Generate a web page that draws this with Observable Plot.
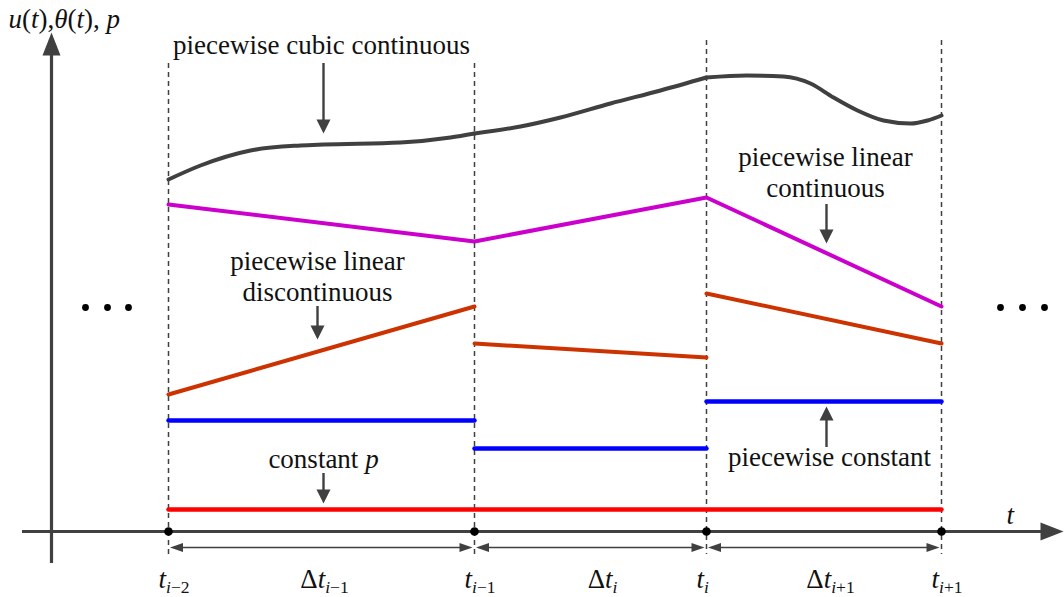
<!DOCTYPE html>
<html>
<head>
<meta charset="utf-8">
<script src="https://cdn.jsdelivr.net/npm/d3@7"></script>
<script src="https://cdn.jsdelivr.net/npm/@observablehq/plot@0.6"></script>
<style>
  body { margin: 0; background: #fff; }
</style>
</head>
<body>
<div id="chart"></div>
<script>
// Knot times t_{i-2} … t_{i+1} and their labels
const knots = [1.17, 4.23, 6.55, 8.90];
const knotLabels = ["t_{i−2}", "t_{i−1}", "t_{i}", "t_{i+1}"];
const stepLabels = ["Δt_{i−1}", "Δt_{i}", "Δt_{i+1}"];

// u(t): piecewise cubic, continuous (samples on each interval)
const cubicT = [
  [1.17, 1.49, 1.99, 2.49, 2.72, 3.49, 3.99, 4.23],
  [4.23, 4.69, 5.09, 5.59, 6.09, 6.55],
  [6.55, 6.95, 7.32, 7.59, 7.82, 8.06, 8.32, 8.59, 8.76, 8.90]
];
const cubicU = [
  [3.52, 3.66, 3.81, 3.86, 3.87, 3.89, 3.94, 3.98],
  [3.98, 4.05, 4.14, 4.28, 4.41, 4.54],
  [4.54, 4.56, 4.55, 4.48, 4.34, 4.21, 4.11, 4.08, 4.11, 4.16]
];

// piecewise linear, continuous (value at each knot)
const linContU = [3.27, 2.90, 3.34, 2.25];

// piecewise linear, discontinuous (start / end value on each interval)
const linDiscStart = [1.37, 1.88, 2.38];
const linDiscEnd = [2.25, 1.74, 1.88];

// piecewise constant (one value per interval)
const pieceConst = [1.11, 0.83, 1.30];

// constant p
const constP = 0.22;

// ---- tables built from the arrays above ----
const cubicRows = cubicT.flatMap((ts, k) => ts.map((t, j) => ({t, v: cubicU[k][j], piece: k})));
const linContRows = knots.map((t, i) => ({t, v: linContU[i]}));
const discRows = linDiscStart.flatMap((v, k) => [
  {t: knots[k], v, piece: k},
  {t: knots[k + 1], v: linDiscEnd[k], piece: k}
]);
const constRows = pieceConst.flatMap((v, k) => [
  {t: knots[k], v, piece: k},
  {t: knots[k + 1], v, piece: k}
]);
const pRows = [{t: knots[0], v: constP}, {t: knots[3], v: constP}];
const intervals = d3.range(3).map(k => ({a: knots[k], b: knots[k + 1], k}));

// annotation placement (text baseline, arrow tail and tip)
const notes = [
  {text: "piecewise cubic continuous", x: 2.70, y: 4.78, ax: 2.72, from: 4.68, to: 3.98},
  {text: "piecewise linear\ndiscontinuous", x: 2.66, y: 2.31, ax: 2.66, from: 2.25, to: 1.92},
  {text: "piecewise linear\ncontinuous", x: 7.74, y: 3.35, ax: 7.75, from: 3.27, to: 2.88},
  {text: "piecewise constant", x: 7.78, y: 0.66, ax: 7.75, from: 0.84, to: 1.25},
  {text: "constant $p$", x: 2.72, y: 0.64, ax: 2.72, from: 0.58, to: 0.28}
];
const stepLabelAt = [2.73, 5.51, 7.79];
const guideTop = [4.68, 4.68, 4.91, 4.91];

// filled triangular arrowheads; the symbol origin is the tip
function tri(dir, len, half) {
  return {
    draw(ctx) {
      const pts = {
        up: [[0, 0], [-half, len], [half, len]],
        down: [[0, 0], [-half, -len], [half, -len]],
        left: [[0, 0], [len, -half], [len, half]],
        right: [[0, 0], [-len, -half], [-len, half]]
      }[dir];
      ctx.moveTo(...pts[0]);
      ctx.lineTo(...pts[1]);
      ctx.lineTo(...pts[2]);
      ctx.closePath();
    }
  };
}

const ink = "#404040";
const serif = "Liberation Serif";
const fs = 27;
const headLen = 0.13; // annotation head length in value units

const chart = Plot.plot({
  width: 1064,
  height: 597,
  marginLeft: 51,
  marginRight: 13,
  marginTop: 31,
  marginBottom: 66,
  x: {domain: [0, 10], axis: null},
  y: {domain: [0, 5], axis: null},
  marks: [
    // dashed knot guides
    Plot.ruleX(knots, {y1: (d, i) => guideTop[i], y2: -0.23, stroke: ink, strokeWidth: 1.5, strokeDasharray: "5,4"}),

    // axes with arrowheads
    Plot.ruleY([0], {x1: -0.29, x2: 9.92, stroke: ink, strokeWidth: 3.2}),
    Plot.ruleX([0], {y1: -0.32, y2: 4.78, stroke: ink, strokeWidth: 3.2}),
    Plot.dot([0], {x: 0, y: 4.99, symbol: tri("up", 23, 9), fill: ink, stroke: "none"}),
    Plot.dot([0], {x: 10.12, y: 0, symbol: tri("right", 23, 9), fill: ink, stroke: "none"}),

    // constant p
    Plot.line(pRows, {x: "t", y: "v", stroke: "#ff0000", strokeWidth: 4.5, strokeLinecap: "round"}),
    // piecewise constant
    Plot.line(constRows, {x: "t", y: "v", z: "piece", stroke: "#0000ff", strokeWidth: 4.5, strokeLinecap: "round"}),
    // piecewise linear discontinuous
    Plot.line(discRows, {x: "t", y: "v", z: "piece", stroke: "#cc3300", strokeWidth: 4, strokeLinecap: "round"}),
    // piecewise linear continuous
    Plot.line(linContRows, {x: "t", y: "v", stroke: "#cc00cc", strokeWidth: 4, strokeLinecap: "round"}),
    // piecewise cubic continuous
    Plot.line(cubicRows, {x: "t", y: "v", z: "piece", curve: "monotone-x", stroke: ink, strokeWidth: 4, strokeLinecap: "round"}),

    // knots on the time axis
    Plot.dot(knots, {x: d => d, y: 0, r: 4.3, fill: "black", stroke: "none"}),

    // interval widths Δt
    Plot.ruleY(intervals, {y: -0.16, x1: d => d.a + 0.12, x2: d => d.b - 0.12, stroke: ink, strokeWidth: 1.5}),
    Plot.dot(intervals, {x: d => d.a + 0.015, y: -0.16, symbol: tri("left", 13, 4.5), fill: ink, stroke: "none"}),
    Plot.dot(intervals, {x: d => d.b - 0.02, y: -0.16, symbol: tri("right", 13, 4.5), fill: ink, stroke: "none"}),

    // ellipses on either side
    Plot.dot([0.34, 0.56, 0.77, 9.49, 9.71, 9.93], {x: d => d, y: 2.24, r: 3.4, fill: "black", stroke: "none"}),

    // annotation arrows
    Plot.ruleX(notes, {x: "ax", y1: "from", y2: d => d.to + (d.to < d.from ? headLen : -headLen), stroke: ink, strokeWidth: 2.4}),
    Plot.dot(notes.filter(d => d.to < d.from), {x: "ax", y: "to", symbol: tri("down", 14, 7), fill: ink, stroke: "none"}),
    Plot.dot(notes.filter(d => d.to > d.from), {x: "ax", y: "to", symbol: tri("up", 14, 7), fill: ink, stroke: "none"}),

    // annotation text
    Plot.text(notes, {x: "x", y: "y", text: "text", lineAnchor: "bottom", lineHeight: 1.13, fontSize: fs, fontFamily: serif, fill: "#111"}),

    // axis titles
    Plot.text(["$u(t),θ(t), p$"], {x: -0.43, y: 5.04, text: d => d, textAnchor: "start", lineAnchor: "bottom", fontSize: fs, fontFamily: serif, fill: "#111"}),
    Plot.text(["$t$"], {x: 9.55, y: 0.08, text: d => d, textAnchor: "start", lineAnchor: "bottom", fontSize: fs, fontFamily: serif, fill: "#111"}),

    // knot and interval labels
    Plot.text(knots, {x: d => d, y: -0.56, dx: -10, text: (d, i) => "$" + knotLabels[i] + "$", textAnchor: "start", lineAnchor: "bottom", fontSize: fs, fontFamily: serif, fill: "#111"}),
    Plot.text(stepLabelAt, {x: d => d, y: -0.56, text: (d, i) => "$" + stepLabels[i] + "$", textAnchor: "middle", lineAnchor: "bottom", fontSize: fs, fontFamily: serif, fill: "#111"})
  ]
});

// Typeset "$…$" spans: letters italic, _{…} as subscripts
function typeset(el) {
  el.style.fontFamily = serif;
  const src = el.textContent;
  if (!src.includes("$")) return;
  el.textContent = "";
  let math = false, shift = 0;
  const add = (s, italic, sub) => {
    const ts = document.createElementNS("http://www.w3.org/2000/svg", "tspan");
    ts.textContent = s;
    if (italic) ts.setAttribute("font-style", "italic");
    const want = sub ? 5 : 0;
    if (want !== shift) { ts.setAttribute("dy", want - shift); shift = want; }
    if (sub) ts.setAttribute("font-size", 17.5);
    el.appendChild(ts);
  };
  for (let i = 0; i < src.length; ) {
    const c = src[i];
    if (c === "$") { math = !math; i++; continue; }
    if (math && c === "_" && src[i + 1] === "{") {
      const j = src.indexOf("}", i);
      for (const ch of src.slice(i + 2, j)) add(ch, /[a-zA-Zθ]/.test(ch), true);
      i = j + 1;
      continue;
    }
    add(c, math && /[a-zA-Zθ]/.test(c), false);
    i++;
  }
}
chart.querySelectorAll("text").forEach(typeset);

document.getElementById("chart").appendChild(chart);
</script>
</body>
</html>
